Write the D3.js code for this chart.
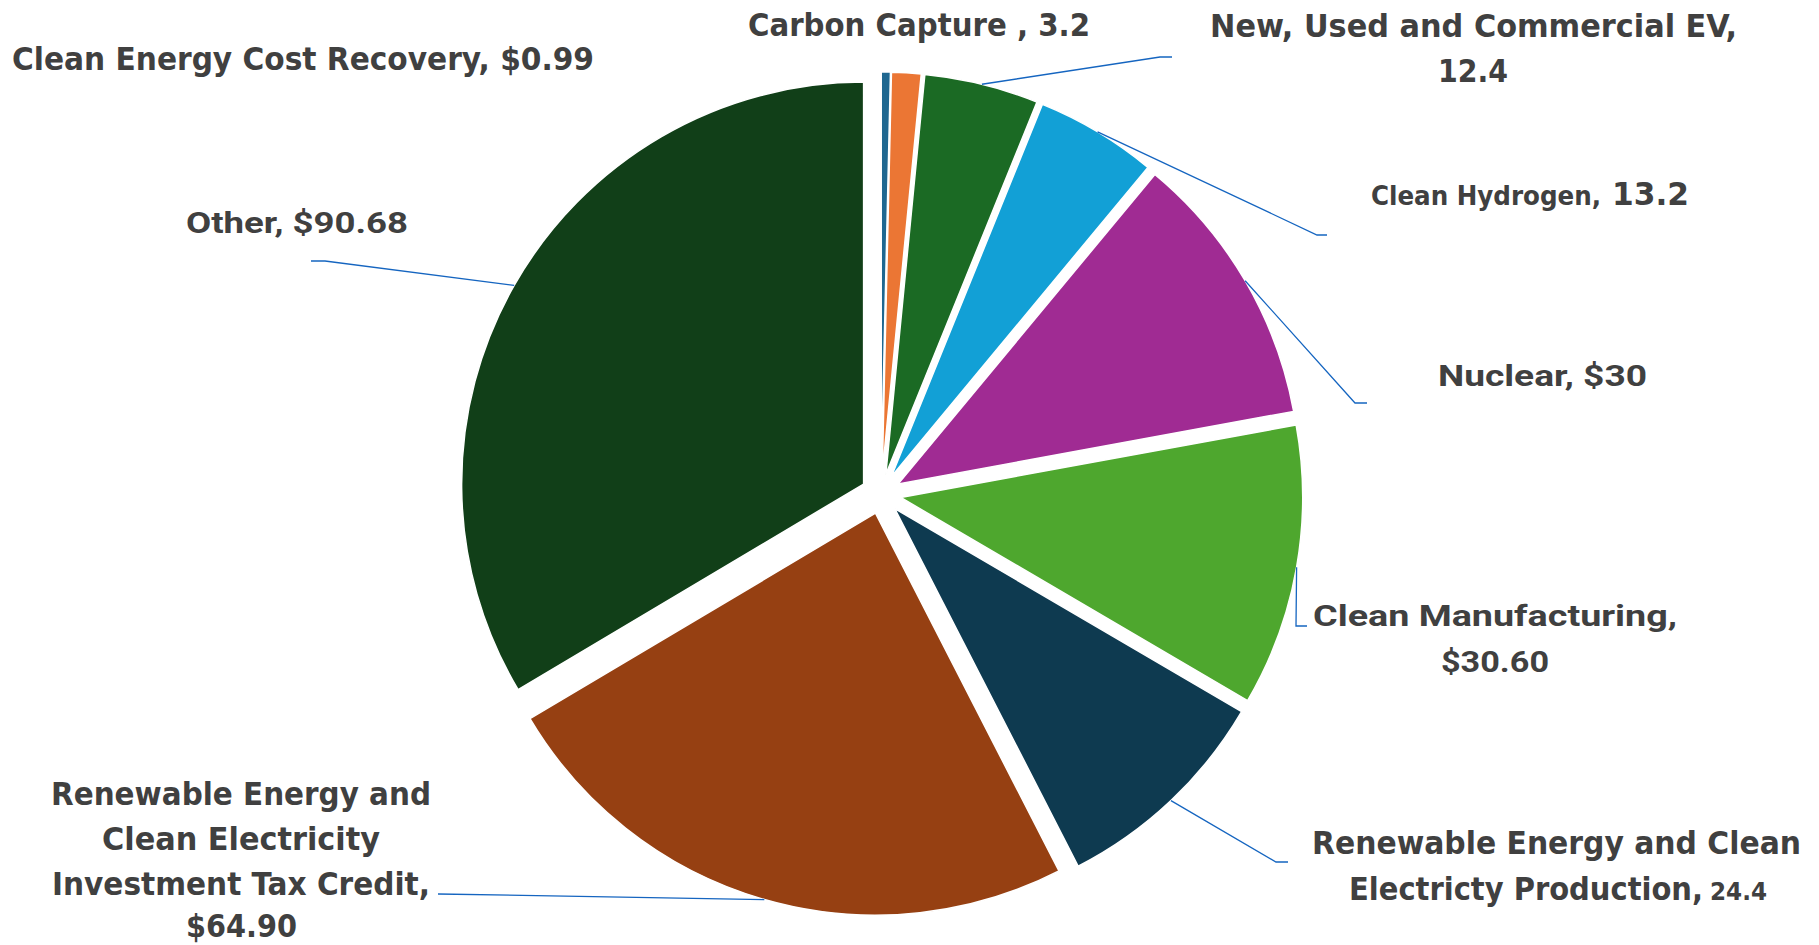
<!DOCTYPE html>
<html>
<head>
<meta charset="utf-8">
<script src="https://cdn.jsdelivr.net/npm/d3@7"></script>
<style>
  html, body { margin: 0; padding: 0; background: #fff; }
  svg { display: block; }
</style>
</head>
<body>
<div id="chart"></div>
<script>
// data
const categories = [
  'Clean Energy Cost Recovery',
  'Carbon Capture',
  'New, Used and Commercial EV',
  'Clean Hydrogen',
  'Nuclear',
  'Clean Manufacturing',
  'Renewable Energy and Clean Electricty Production',
  'Renewable Energy and Clean Electricity Investment Tax Credit',
  'Other'
]
const values = [0.99, 3.2, 12.4, 13.2, 30, 30.6, 24.4, 64.9, 90.68]
const sliceColors = ['#1F6790', '#EB7634', '#1B6A24', '#12A0D6', '#A02B93', '#4EA72E', '#0E3A50', '#964012', '#113F18']

// label text, one entry per line: [text, size, font]
const NARROW = "'Liberation Sans Narrow', 'Arial Narrow', 'DejaVu Sans Condensed', sans-serif"
const WIDE = "Roboto, 'Open Sans', sans-serif"
const labelLines = [
  [['Clean Energy Cost Recovery, $0.99', 32, NARROW]],
  [['Carbon Capture , 3.2', 32, NARROW]],
  [['New, Used and Commercial EV,', 32, NARROW], ['12.4', 32, NARROW]],
  [['Clean Hydrogen,', 26, NARROW], ['13.2', 32, NARROW]],
  [['Nuclear, $30', 30, WIDE]],
  [['Clean Manufacturing,', 30, WIDE], ['$30.60', 30, WIDE]],
  [['Renewable Energy and Clean', 32, NARROW], ['Electricty Production,', 32, NARROW], ['24.4', 24, NARROW]],
  [['Renewable Energy and', 32, NARROW], ['Clean Electricity', 32, NARROW], ['Investment Tax Credit,', 32, NARROW], ['$64.90', 32, NARROW]],
  [['Other, $90.68', 30, WIDE]]
]

// layout of labels: [left x, baseline y, width] per line
const labelBoxes = [
  [[12, 70, 582]],
  [[748, 36, 342]],
  [[1210, 37, 527], [1438, 82, 70]],
  [[1371, 205, 230], [1612, 205, 77]],
  [[1438, 386, 209]],
  [[1313, 626, 364], [1441, 672, 108]],
  [[1312, 854, 489], [1349, 900, 354], [1710, 900, 57]],
  [[51, 805, 380], [102, 850, 278], [52, 895, 378], [186, 937, 111]],
  [[186, 233, 222]]
]
// leader line elbows (null = no leader)
const leaderElbows = [
  null,
  null,
  [[1160, 57], [1172, 57]],
  [[1317, 235], [1327, 235]],
  [[1355, 403], [1367, 403]],
  [[1296, 626], [1307, 626]],
  [[1276, 862], [1288, 862]],
  [[438, 894]],
  [[325, 261], [311, 261]]
]

const width = 1819
const height = 945
const cx = 881
const cy = 494
const radius = 402
const explode = 20

const svg = d3.select('#chart').append('svg')
  .attr('width', width)
  .attr('height', height)

const pie = d3.pie().sort(null).value(d => d)
const arc = d3.arc().innerRadius(0).outerRadius(radius)
const arcs = pie(values)

function offsetOf(a) {
  let mid = (a.startAngle + a.endAngle) / 2
  return [cx + Math.sin(mid) * explode, cy - Math.cos(mid) * explode]
}

svg.append('g').selectAll('path')
  .data(arcs)
  .enter().append('path')
  .attr('transform', d => `translate(${offsetOf(d)[0]},${offsetOf(d)[1]})`)
  .attr('d', arc)
  .attr('fill', (d, i) => sliceColors[i])
  .attr('stroke', '#fff')
  .attr('stroke-width', 1.5)

// leader lines
const line = d3.line()
arcs.forEach((a, i) => {
  if (!leaderElbows[i]) return
  let mid = (a.startAngle + a.endAngle) / 2
  let [ox, oy] = offsetOf(a)
  let start = [ox + Math.sin(mid) * radius, oy - Math.cos(mid) * radius]
  svg.append('path')
    .attr('d', line([start].concat(leaderElbows[i])))
    .attr('fill', 'none')
    .attr('stroke', '#1565C0')
    .attr('stroke-width', 1.3)
})

// labels
labelLines.forEach((lines, i) => {
  lines.forEach((ln, j) => {
    let box = labelBoxes[i][j]
    svg.append('text')
      .attr('x', box[0])
      .attr('y', box[1])
      .attr('textLength', box[2])
      .attr('lengthAdjust', 'spacingAndGlyphs')
      .attr('font-family', ln[2])
      .attr('font-size', ln[1])
      .attr('font-weight', 700)
      .attr('fill', '#404040')
      .text(ln[0])
  })
})
</script>
</body>
</html>
